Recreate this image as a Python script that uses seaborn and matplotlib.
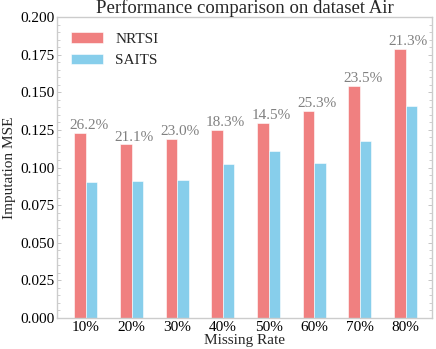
import matplotlib
matplotlib.use("Agg")
import matplotlib.pyplot as plt
import seaborn as sns
import pandas as pd
from matplotlib.ticker import AutoMinorLocator, MultipleLocator

rates = ["10%", "20%", "30%", "40%", "50%", "60%", "70%", "80%"]
nrtsi = [0.1232, 0.1154, 0.1190, 0.1250, 0.1296, 0.1378, 0.1543, 0.1789]
saits = [0.0907, 0.0910, 0.0917, 0.1022, 0.1108, 0.1030, 0.1178, 0.1409]
improve = ["26.2%", "21.1%", "23.0%", "18.3%", "14.5%", "25.3%", "23.5%", "21.3%"]
models = ["NRTSI", "SAITS"]
colors = ["#F08080", "#87CEEB"]

df = pd.DataFrame({
    "Missing Rate": rates * 2,
    "MSE": nrtsi + saits,
    "Model": ["NRTSI"] * len(rates) + ["SAITS"] * len(rates),
})

sns.set_theme(style="ticks")
plt.rcParams["font.family"] = ["Liberation Serif", "DejaVu Serif"]

fig = plt.figure(figsize=(4.36, 3.49), dpi=100)
ax = fig.add_axes([0.131, 0.089, 0.860, 0.862])

sns.barplot(data=df, x="Missing Rate", y="MSE", hue="Model", hue_order=models,
            palette=colors, width=0.5, ax=ax, edgecolor="white", linewidth=0.4,
            saturation=1)

for i, (v, t) in enumerate(zip(nrtsi, improve)):
    ax.text(i + 0.06, v + 0.0005, t, ha="center", va="bottom",
            fontsize=11, color="#808080")

ax.set_xlim(-0.63, 7.58)
ax.set_ylim(0, 0.2)
ax.yaxis.set_major_locator(MultipleLocator(0.025))
ax.yaxis.set_minor_locator(AutoMinorLocator(5))
ax.yaxis.set_major_formatter(plt.FuncFormatter(lambda v, p: f"{v:.3f}"))

for s in ax.spines.values():
    s.set_visible(True)
    s.set_color("#CCCCCC")
    s.set_linewidth(1.0)

ax.tick_params(axis="both", which="both", direction="in", color="#BBBBBB",
               labelsize=11, labelcolor="black")
ax.tick_params(axis="both", which="major", length=3, width=0.6, pad=2)
ax.tick_params(axis="y", which="minor", length=2, width=0.5)
ax.tick_params(axis="y", which="both", right=True)

ax.set_xlabel("Missing Rate", fontsize=11, labelpad=0)
ax.set_ylabel("Imputation MSE", fontsize=11, labelpad=3)
ax.set_title("Performance comparison on dataset Air", fontsize=13.5, pad=3)

ax.legend(loc="upper left", frameon=False, fontsize=11, handlelength=2.1,
          bbox_to_anchor=(0.0, 0.995))

fig.savefig("out.png", dpi=100)
